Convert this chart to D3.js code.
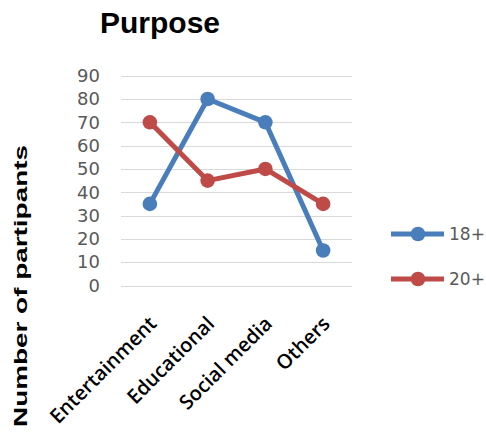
<!DOCTYPE html>
<html>
<head>
<meta charset="utf-8">
<script src="https://cdn.jsdelivr.net/npm/d3@7"></script>
<style>
  html, body { margin: 0; padding: 0; background: #fff; }
  svg { display: block; }
</style>
</head>
<body>
<svg id="chart" width="486" height="434"></svg>
<script>
// Purpose of use, participants per age group
const categories = ["Entertainment", "Educational", "Social media", "Others"];
const seriesNames = ["18+", "20+"];
const values18 = [35, 80, 70, 15];
const values20 = [70, 45, 50, 35];
const yTicks = [0, 10, 20, 30, 40, 50, 60, 70, 80, 90];
const colors = ["#4a7ebb", "#be4b48"];

const svg = d3.select("#chart");

const x = d3.scaleBand().domain(categories).range([121, 352]);
const y = d3.scaleLinear().domain([0, 90]).range([285.5, 75.7]);
const cx = d => x(d) + x.bandwidth() / 2;

// Title
svg.append("text")
  .attr("x", 160).attr("y", 33)
  .attr("text-anchor", "middle")
  .attr("font-family", "Liberation Sans, Arial, sans-serif")
  .attr("font-weight", "bold")
  .attr("font-size", 30)
  .attr("fill", "#000")
  .text("Purpose");

// Horizontal gridlines
svg.append("g")
  .selectAll("line")
  .data(yTicks)
  .join("line")
  .attr("x1", 121).attr("x2", 352)
  .attr("y1", d => Math.round(y(d)) + 0.5)
  .attr("y2", d => Math.round(y(d)) + 0.5)
  .attr("stroke", "#d9d9d9")
  .attr("stroke-width", 1);

// Y axis tick labels
const yAxis = d3.axisLeft(y).tickValues(yTicks).tickSize(0).tickPadding(0);
const gy = svg.append("g").attr("transform", "translate(100,0)").call(yAxis);
gy.select(".domain").remove();
gy.selectAll("text")
  .attr("font-family", "DejaVu Sans, sans-serif")
  .attr("font-size", 18)
  .attr("fill", "#595959");

// Y axis title
svg.append("text")
  .attr("transform", "translate(27,286) rotate(-90)")
  .attr("text-anchor", "middle")
  .attr("font-family", "Liberation Sans, Arial, sans-serif")
  .attr("font-weight", "bold")
  .attr("font-size", 19)
  .attr("textLength", 282)
  .attr("lengthAdjust", "spacingAndGlyphs")
  .attr("fill", "#000")
  .text("Number of partipants");

// X axis category labels, rotated
const xAxis = d3.axisBottom(x).tickSize(0).tickPadding(0);
const gx = svg.append("g").call(xAxis);
gx.select(".domain").remove();
gx.selectAll(".tick").attr("transform", d => `translate(${cx(d) + 8},${325})`);
gx.selectAll("text")
  .attr("y", 0).attr("dy", 0)
  .attr("transform", "rotate(-45)")
  .attr("text-anchor", "end")
  .attr("font-family", "Open Sans, sans-serif")
  .attr("font-weight", 600)
  .attr("font-size", 20)
  .attr("fill", "#000");

// Series lines and markers
const series = [values18, values20];
const line = d3.line().x((d, i) => cx(categories[i])).y(d => y(d));

series.forEach((vals, s) => {
  const g = svg.append("g");
  g.append("path")
    .datum(vals)
    .attr("d", line)
    .attr("fill", "none")
    .attr("stroke", colors[s])
    .attr("stroke-width", 5)
    .attr("stroke-linejoin", "round");
  g.selectAll("circle")
    .data(vals)
    .join("circle")
    .attr("cx", (d, i) => cx(categories[i]))
    .attr("cy", d => y(d))
    .attr("r", 7.3)
    .attr("fill", colors[s]);
});

// Legend
const legendY = [234, 279];
seriesNames.forEach((name, s) => {
  const g = svg.append("g").attr("transform", `translate(0,${legendY[s]})`);
  g.append("line")
    .attr("x1", 391).attr("x2", 444)
    .attr("stroke", colors[s]).attr("stroke-width", 5);
  g.append("circle").attr("cx", 418).attr("r", 7.3).attr("fill", colors[s]);
  g.append("text")
    .attr("x", 449).attr("y", 0).attr("dy", "0.35em")
    .attr("font-family", "DejaVu Sans, sans-serif")
    .attr("font-size", 17)
    .attr("fill", "#595959")
    .text(name);
});
</script>
</body>
</html>
